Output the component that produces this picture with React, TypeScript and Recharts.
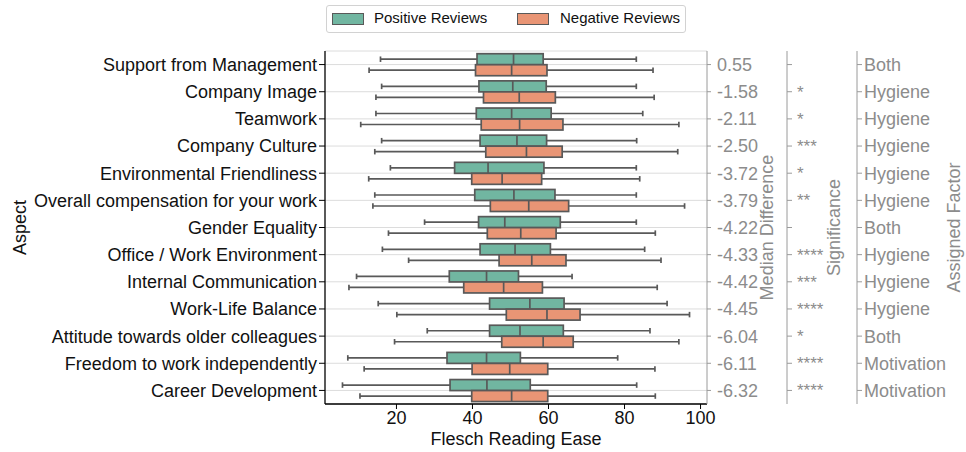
import React from "react";
import { Bar, CartesianGrid, ComposedChart, XAxis, YAxis } from "recharts";

const aspects = [
  "Support from Management",
  "Company Image",
  "Teamwork",
  "Company Culture",
  "Environmental Friendliness",
  "Overall compensation for your work",
  "Gender Equality",
  "Office / Work Environment",
  "Internal Communication",
  "Work-Life Balance",
  "Attitude towards older colleagues",
  "Freedom to work independently",
  "Career Development",
];

const medianDiffs = ["0.55", "-1.58", "-2.11", "-2.50", "-3.72", "-3.79", "-4.22", "-4.33", "-4.42", "-4.45", "-6.04", "-6.11", "-6.32"];
const significance = ["", "*", "*", "***", "*", "**", "", "****", "***", "****", "*", "****", "****"];
const factors = ["Both", "Hygiene", "Hygiene", "Hygiene", "Hygiene", "Hygiene", "Both", "Hygiene", "Hygiene", "Hygiene", "Both", "Motivation", "Motivation"];

// [lower whisker, q1, median, q3, upper whisker]
const positiveStats = [
  [15.8, 41.2, 50.8, 58.6, 83.1],
  [16.1, 41.7, 50.6, 59.4, 83.1],
  [14.6, 41.0, 50.3, 60.7, 84.8],
  [16.1, 42.0, 51.7, 59.5, 83.2],
  [18.4, 35.3, 44.1, 58.8, 83.1],
  [14.3, 40.6, 50.9, 61.7, 83.1],
  [27.4, 41.6, 48.5, 63.1, 83.1],
  [16.3, 42.0, 51.2, 60.5, 85.3],
  [9.5, 33.9, 43.7, 52.1, 66.2],
  [15.2, 44.5, 55.1, 64.1, 91.2],
  [28.1, 44.5, 52.5, 63.9, 86.7],
  [7.2, 33.3, 43.7, 52.6, 78.2],
  [5.8, 34.1, 43.8, 55.2, 83.2],
];

const negativeStats = [
  [12.8, 40.8, 50.3, 59.6, 87.5],
  [14.6, 42.9, 52.3, 61.8, 87.8],
  [10.6, 42.3, 52.4, 63.8, 94.3],
  [14.3, 43.5, 54.2, 63.6, 94.0],
  [12.7, 39.8, 47.8, 58.2, 84.0],
  [13.8, 44.7, 54.8, 65.3, 95.8],
  [17.9, 43.9, 52.7, 62.0, 88.1],
  [23.2, 47.0, 55.6, 64.6, 89.6],
  [7.5, 37.7, 48.2, 58.4, 88.6],
  [20.1, 48.9, 59.6, 68.3, 97.1],
  [19.5, 47.7, 58.6, 66.5, 94.3],
  [11.5, 39.9, 49.8, 59.8, 88.0],
  [10.4, 39.8, 50.3, 59.8, 88.1],
];

const xTicks = [20, 40, 60, 80, 100];

const rows = aspects.map((aspect, i) => ({
  aspect,
  pos: positiveStats[i],
  neg: negativeStats[i],
}));

const FONT = "'Liberation Sans', Arial, Helvetica, sans-serif";
const GREEN = "#71b6a1";
const ORANGE = "#e99575";
const EDGE = "#595959";
const GREY_TEXT = "#8c8c8c";
const GREY_LINE = "#9a9a9a";

function BoxShape(props: any) {
  const { x, y, width, height, payload, group, fill } = props;
  const [lo, q1, med, q3, hi] = payload[group] as number[];
  const px = (v: number) => x + (width * (v - lo)) / (hi - lo);
  const cy = y + height / 2;
  const cap = height / 4;
  return (
    <g stroke={EDGE} strokeWidth={1.7}>
      <line x1={px(lo)} x2={px(q1)} y1={cy} y2={cy} />
      <line x1={px(q3)} x2={px(hi)} y1={cy} y2={cy} />
      <line x1={px(lo)} x2={px(lo)} y1={cy - cap} y2={cy + cap} />
      <line x1={px(hi)} x2={px(hi)} y1={cy - cap} y2={cy + cap} />
      <rect x={px(q1)} y={y} width={px(q3) - px(q1)} height={height} fill={fill} />
      <line x1={px(med)} x2={px(med)} y1={y} y2={y + height} />
    </g>
  );
}

function rotatedTitle(text: string, fromLeft: number, color: string) {
  return (p: any) => {
    const vb = p.viewBox || {};
    const cx = vb.x + fromLeft;
    const cy = vb.y + vb.height / 2;
    return (
      <text
        x={cx}
        y={cy}
        transform={`rotate(-90 ${cx} ${cy})`}
        textAnchor="middle"
        dominantBaseline="central"
        fill={color}
        fontSize={18}
        fontFamily={FONT}
      >
        {text}
      </text>
    );
  };
}

function Legend() {
  const patch = (left: number, color: string) => (
    <div
      style={{
        position: "absolute",
        left,
        top: 7,
        width: 30,
        height: 10,
        background: color,
        border: `1px solid ${EDGE}`,
      }}
    />
  );
  const label = (left: number, text: string) => (
    <div style={{ position: "absolute", left, top: 3, fontSize: 15, lineHeight: "18px", color: "#111" }}>{text}</div>
  );
  return (
    <div
      style={{
        position: "absolute",
        left: 326,
        top: 5,
        width: 358,
        height: 26,
        border: "1px solid #d2d2d2",
        borderRadius: 3,
        background: "#fff",
        fontFamily: FONT,
      }}
    >
      {patch(5, GREEN)}
      {label(47, "Positive Reviews")}
      {patch(190, ORANGE)}
      {label(233, "Negative Reviews")}
    </div>
  );
}

export default function App() {
  const findIdx = (a: string) => aspects.indexOf(a);
  return (
    <div
      style={{
        position: "fixed",
        left: 0,
        top: 0,
        width: 966,
        height: 452,
        background: "#fff",
        fontFamily: FONT,
      }}
    >
      <ComposedChart
        layout="vertical"
        width={966}
        height={452}
        data={rows}
        margin={{ top: 51, right: 0, bottom: 0, left: 0 }}
        barCategoryGap="10%"
        barGap={0}
      >
        <CartesianGrid yAxisId="aspect" vertical={false} stroke="#dcdcdc" strokeWidth={1} />
        <XAxis
          type="number"
          domain={[1.2, 101.7]}
          ticks={xTicks}
          allowDataOverflow
          height={48}
          tickSize={5}
          tickMargin={2}
          axisLine={{ stroke: "#000", strokeWidth: 1.3 }}
          tickLine={{ stroke: "#000" }}
          tick={{ fill: "#111", fontSize: 18, fontFamily: FONT }}
          label={{ value: "Flesch Reading Ease", position: "insideBottom", offset: 7, fill: "#111", fontSize: 18, fontFamily: FONT }}
        />
        <YAxis
          yAxisId="aspect"
          type="category"
          dataKey="aspect"
          width={325}
          tickSize={6}
          tickMargin={2}
          interval={0}
          axisLine={{ stroke: "#000", strokeWidth: 1.3 }}
          tickLine={{ stroke: "#000" }}
          tick={{ fill: "#111", fontSize: 18, fontFamily: FONT }}
          label={{ value: "Aspect", content: rotatedTitle("Aspect", 20, "#111") }}
        />
        <YAxis
          yAxisId="r1_diff"
          orientation="right"
          type="category"
          dataKey="aspect"
          width={80}
          tickSize={4}
          tickMargin={6}
          interval={0}
          tickFormatter={(a: string) => medianDiffs[findIdx(a)]}
          axisLine={{ stroke: GREY_LINE }}
          tickLine={{ stroke: GREY_LINE }}
          tick={{ fill: GREY_TEXT, fontSize: 18, fontFamily: FONT }}
          label={{ value: "Median Difference", content: rotatedTitle("Median Difference", 60, GREY_TEXT) }}
        />
        <YAxis
          yAxisId="r2_sig"
          orientation="right"
          type="category"
          dataKey="aspect"
          width={70}
          tickSize={5}
          tickMargin={5}
          interval={0}
          tickFormatter={(a: string) => significance[findIdx(a)]}
          axisLine={{ stroke: GREY_LINE }}
          tickLine={{ stroke: GREY_LINE }}
          tick={{ fill: GREY_TEXT, fontSize: 17, fontFamily: FONT }}
          label={{ value: "Significance", content: rotatedTitle("Significance", 47, GREY_TEXT) }}
        />
        <YAxis
          yAxisId="r3_factor"
          orientation="right"
          type="category"
          dataKey="aspect"
          width={109}
          tickSize={5}
          tickMargin={2}
          interval={0}
          tickFormatter={(a: string) => factors[findIdx(a)]}
          axisLine={{ stroke: GREY_LINE }}
          tickLine={{ stroke: GREY_LINE }}
          tick={{ fill: GREY_TEXT, fontSize: 18, fontFamily: FONT }}
          label={{ value: "Assigned Factor", content: rotatedTitle("Assigned Factor", 97, GREY_TEXT) }}
        />
        <Bar
          yAxisId="aspect"
          dataKey={(d: any) => [d.pos[0], d.pos[4]]}
          fill={GREEN}
          isAnimationActive={false}
          shape={(p: any) => <BoxShape {...p} group="pos" fill={GREEN} />}
        />
        <Bar
          yAxisId="aspect"
          dataKey={(d: any) => [d.neg[0], d.neg[4]]}
          fill={ORANGE}
          isAnimationActive={false}
          shape={(p: any) => <BoxShape {...p} group="neg" fill={ORANGE} />}
        />
      </ComposedChart>
      <Legend />
    </div>
  );
}
